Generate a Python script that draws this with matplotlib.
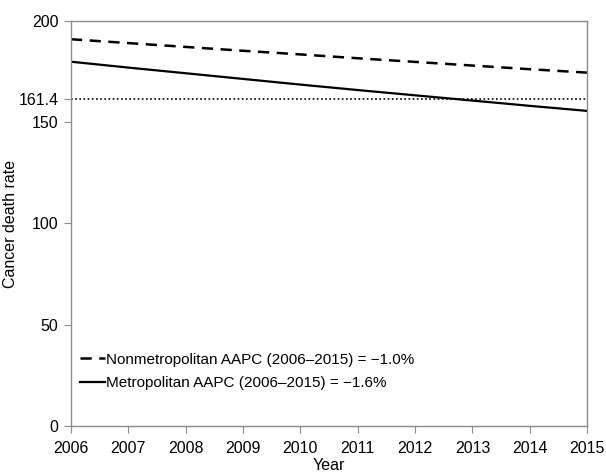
import matplotlib
matplotlib.use('Agg')
import matplotlib.pyplot as plt

# Values
years = [2006, 2007, 2008, 2009, 2010, 2011, 2012, 2013, 2014, 2015]
nonmetro = [191.0, 189.1, 187.2, 185.3, 183.5, 181.6, 179.8, 178.0, 176.2, 174.5]
metro = [179.9, 177.0, 174.2, 171.4, 168.6, 165.9, 163.3, 160.7, 158.1, 155.6]
reference_rate = 161.4
y_ticks = [0, 50, 100, 150, 161.4, 200]
y_tick_labels = ['0', '50', '100', '150', '161.4', '200']
nonmetro_label = 'Nonmetropolitan AAPC (2006\u20132015) = \u22121.0%'
metro_label = 'Metropolitan AAPC (2006\u20132015) = \u22121.6%'

plt.rcParams['font.family'] = ['Liberation Sans', 'DejaVu Sans']

fig = plt.figure(figsize=(6.06, 4.72), dpi=100)
ax = fig.add_axes([0.117, 0.0975, 0.852, 0.858])

ax.plot(years, nonmetro, color='black', linewidth=1.8, linestyle=(0, (4.5, 3)),
        label=nonmetro_label)
ax.plot(years, metro, color='black', linewidth=1.6, label=metro_label)
ax.axhline(reference_rate, color='black', linewidth=1.2, linestyle=(0, (1, 1.5)))

ax.set_xlim(years[0], years[-1])
ax.set_ylim(0, 200)
ax.set_xticks(years)
ax.set_yticks(y_ticks)
ax.set_yticklabels(y_tick_labels)

for side in ['left', 'right', 'top', 'bottom']:
    ax.spines[side].set_color('#8c8c8c')
    ax.spines[side].set_linewidth(1.0)
ax.tick_params(axis='both', direction='out', length=5, color='#8c8c8c',
               labelsize=11.5, labelcolor='black')
ax.tick_params(axis='x', pad=6)
ax.tick_params(axis='y', pad=4)

ax.set_ylabel('Cancer death rate', fontsize=11.5)
ax.yaxis.set_label_coords(-0.103, 0.5)
ax.set_xlabel('Year', fontsize=11.5, labelpad=1)

ax.legend(loc='lower left', bbox_to_anchor=(0.0, 0.065), frameon=False,
          fontsize=11, handlelength=1.6, handletextpad=0.1, labelspacing=0.65,
          borderaxespad=0.2)

fig.savefig('out.png', dpi=100)
